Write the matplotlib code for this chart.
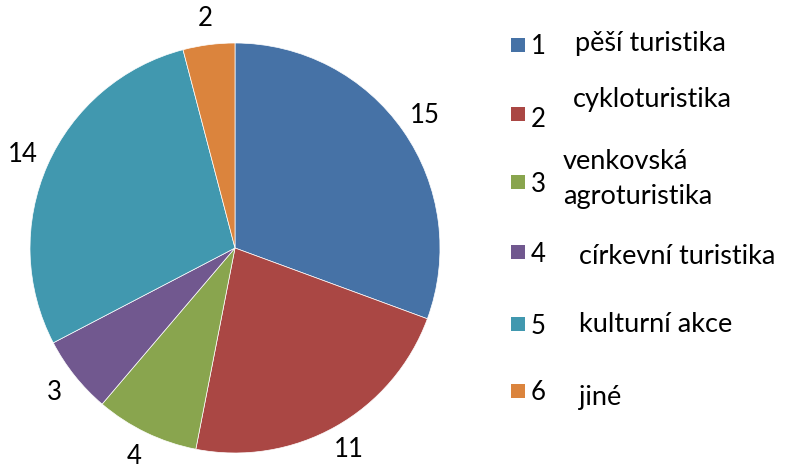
import matplotlib
matplotlib.use("Agg")
import matplotlib.pyplot as plt
from matplotlib.patches import Rectangle

plt.rcParams['font.family'] = ['Lato', 'DejaVu Sans']

# data
codes = ["1", "2", "3", "4", "5", "6"]
names = ["pěší turistika", "cykloturistika", "venkovská\nagroturistika",
         "církevní turistika", "kulturní akce", "jiné"]
values = [15, 11, 4, 3, 14, 2]
colors = ["#4672A6", "#AA4744", "#89A54E", "#71588F", "#4198AF", "#DB843D"]

W, H = 785, 470
fig = plt.figure(figsize=(W / 100, H / 100), dpi=100)

def fx(x):
    return x / W

def fy(y):
    return 1 - y / H

# pie: center (235, 248), radius 205 px
ax = fig.add_axes([fx(30), fy(453), 410 / W, 410 / H])
ax.pie(values, colors=colors, startangle=90, counterclock=False,
       labels=[str(v) for v in values], labeldistance=1.13,
       wedgeprops=dict(linewidth=0.5, edgecolor="white"),
       textprops=dict(fontsize=18.5, color="black", ha="center", va="center"))
for t in ax.texts:
    t.set_ha("center")
    t.set_va("center")
ax.set_xlim(-1, 1)
ax.set_ylim(-1, 1)
ax.axis("off")

# legend, drawn by hand: square, number, name
sq_y = [45, 114, 182, 252, 324, 391]
num_y = [47, 120, 185, 255, 326, 393]
name_x = [575, 573, 563, 579, 579, 579]
name_y = [43, 100, 179, 257, 325, 397]
for i in range(len(codes)):
    fig.patches.append(Rectangle((fx(511), fy(sq_y[i] + 7)), 14 / W, 14 / H,
                                 transform=fig.transFigure, facecolor=colors[i],
                                 edgecolor="none"))
    fig.text(fx(531), fy(num_y[i]), codes[i], fontsize=18.5, va="center", ha="left")
    fig.text(fx(name_x[i]), fy(name_y[i]), names[i], fontsize=19.5, va="center",
             ha="left", linespacing=1.5)

fig.savefig("out.png", dpi=100)
